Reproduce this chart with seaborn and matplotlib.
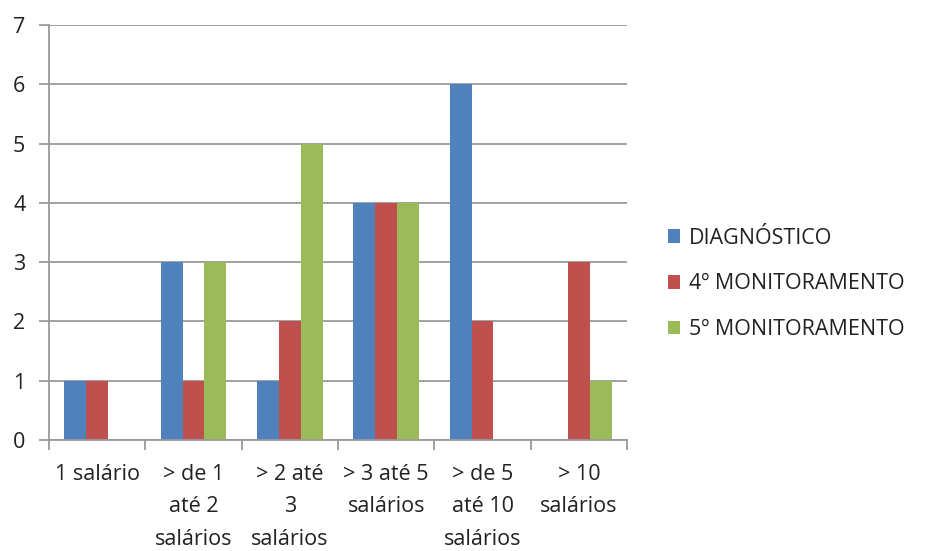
import numpy as np
import pandas as pd
import matplotlib
matplotlib.use("Agg")
import matplotlib.pyplot as plt
from matplotlib.patches import Patch
import seaborn as sns

categories = ["1 salário", "> de 1\naté 2\nsalários", "> 2 até\n3\nsalários",
              "> 3 até 5\nsalários", "> de 5\naté 10\nsalários", "> 10\nsalários"]
series_names = ["DIAGNÓSTICO", "4º MONITORAMENTO", "5º MONITORAMENTO"]
diagnostico = [1, 3, 1, 4, 6, 0]
monit_4 = [1, 1, 2, 4, 2, 3]
monit_5 = [0, 3, 5, 4, 0, 1]
colors = ["#4F81BD", "#C0504D", "#9BBB59"]

rows = []
for name, vals in zip(series_names, [diagnostico, monit_4, monit_5]):
    for cat, v in zip(categories, vals):
        rows.append({"faixa": cat, "serie": name, "valor": v})
df = pd.DataFrame(rows)

sns.set_theme(style="white")
plt.rcParams["font.family"] = ["Open Sans", "DejaVu Sans"]

fig = plt.figure(figsize=(9.31, 5.51), dpi=100)
ax = fig.add_axes([0.0526, 0.2015, 0.6209, 0.7531])

sns.barplot(data=df, x="faixa", y="valor", hue="serie", order=categories,
            hue_order=series_names, palette=colors, saturation=1,
            width=0.68, gap=0, ax=ax, legend=False, errorbar=None,
            linewidth=0, edgecolor="none")

grid_col = "#9a9a9a"
text_col = "#222222"
fs = 15.5
ax.set_xlim(-0.5, len(categories) - 0.5)
ax.set_ylim(0, 7)
ax.set_yticks(range(0, 8))
ax.yaxis.grid(True, color=grid_col, linewidth=1.3)
ax.set_axisbelow(True)
ax.set_xlabel("")
ax.set_ylabel("")

for s in ["top", "right"]:
    ax.spines[s].set_visible(False)
for s in ["left", "bottom"]:
    ax.spines[s].set_color(grid_col)
    ax.spines[s].set_linewidth(1.3)

ax.tick_params(axis="y", length=7, width=1.3, color=grid_col, labelsize=fs,
               labelcolor=text_col, pad=10, left=True)
ax.tick_params(axis="x", which="major", length=0, labelsize=fs,
               labelcolor=text_col, pad=17)
ax.set_xticks(np.arange(-0.5, len(categories)), minor=True)
ax.tick_params(axis="x", which="minor", length=7, width=1.3, color=grid_col,
               bottom=True)
for lbl in ax.get_xticklabels():
    lbl.set_linespacing(1.72)
    lbl.set_horizontalalignment("center")

handles = [Patch(facecolor=c, edgecolor="none") for c in colors]
fig.legend(handles, series_names, loc="center left",
           bbox_to_anchor=(0.7175, 0.4846), frameon=False, fontsize=fs,
           labelspacing=1.15, handlelength=0.58, handleheight=0.58,
           handletextpad=0.38, borderpad=0, borderaxespad=0,
           labelcolor=text_col)

fig.savefig("out.png", dpi=100, facecolor="white")
